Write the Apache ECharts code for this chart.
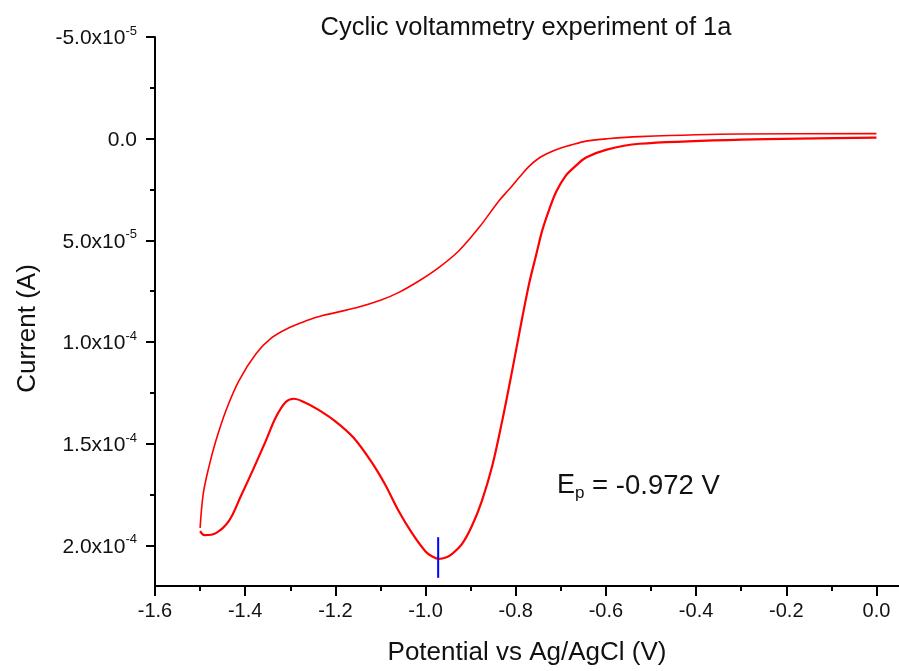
<!DOCTYPE html>
<html>
<head>
<meta charset="utf-8">
<script src="https://cdn.jsdelivr.net/npm/echarts@6/dist/echarts.min.js"></script>
<style>
  html, body { margin: 0; padding: 0; background: #fff; }
  #cv { width: 899px; height: 671px; }
</style>
</head>
<body>
<div id="cv"></div>
<script>
// forward (cathodic) scan, 0.0 V -> -1.5 V ; current in A
var fwdPotential = [0.00, -0.30, -0.526, -0.60, -0.644, -0.67, -0.69, -0.71, -0.726, -0.741, -0.755, -0.77, -0.786,
  -0.808, -0.830, -0.852, -0.875, -0.897, -0.919, -0.941, -0.955, -0.970, -0.985, -1.00, -1.03, -1.06, -1.09, -1.12, -1.16, -1.20, -1.24,
  -1.27, -1.292, -1.31, -1.332, -1.355, -1.385, -1.41, -1.436, -1.465, -1.49, -1.50];
var fwdCurrent = [-0.05e-5, 0.05e-5, 0.25e-5, 0.55e-5, 0.93e-5, 1.40e-5, 1.85e-5, 2.60e-5, 3.50e-5, 4.50e-5, 5.75e-5, 7.10e-5, 8.86e-5,
  11.42e-5, 13.88e-5, 16.09e-5, 17.81e-5, 19.04e-5, 19.93e-5, 20.42e-5, 20.60e-5, 20.67e-5, 20.55e-5, 20.30e-5, 19.40e-5, 18.30e-5, 17.00e-5, 15.90e-5, 14.70e-5, 13.90e-5, 13.30e-5,
  12.95e-5, 12.79e-5, 12.95e-5, 13.70e-5, 14.90e-5, 16.40e-5, 17.60e-5, 18.80e-5, 19.40e-5, 19.50e-5, 19.30e-5];

// reverse (anodic) scan, -1.5 V -> 0.0 V
var revPotential = [-1.50, -1.493, -1.481, -1.465, -1.443, -1.414, -1.376, -1.341, -1.303, -1.265, -1.230, -1.154, -1.10,
  -1.059, -1.014, -0.970, -0.926, -0.881, -0.837, -0.815, -0.792, -0.77, -0.748, -0.725, -0.70, -0.68, -0.644, -0.599, -0.526, -0.304, 0.00];
var revCurrent = [19.14e-5, 17.47e-5, 16.19e-5, 14.86e-5, 13.39e-5, 11.91e-5, 10.58e-5, 9.79e-5, 9.30e-5, 8.96e-5, 8.71e-5, 8.32e-5, 7.95e-5,
  7.56e-5, 6.99e-5, 6.33e-5, 5.51e-5, 4.36e-5, 3.05e-5, 2.50e-5, 1.90e-5, 1.35e-5, 0.95e-5, 0.68e-5, 0.46e-5, 0.33e-5, 0.12e-5, 0.01e-5, -0.10e-5, -0.23e-5, -0.25e-5];

// peak marker at Ep
var peakPotential = [-0.972, -0.972];
var peakCurrent = [19.6e-5, 21.6e-5];

var titleText = 'Cyclic voltammetry experiment of 1a';
var xName = 'Potential vs Ag/AgCl (V)';
var yName = 'Current (A)';

function pairs(xs, ys) {
  var out = [];
  for (var i = 0; i < xs.length; i++) out.push([xs[i], ys[i]]);
  return out;
}

function sciLabel(v) {
  if (Math.abs(v) < 1e-12) return '{m|0.0}';
  var e = Math.floor(Math.log10(Math.abs(v)) + 1e-9);
  var m = v / Math.pow(10, e);
  return '{m|' + m.toFixed(1) + 'x10}{s|' + e + '}';
}

var font = '"Liberation Sans", Arial, sans-serif';
var chart = echarts.init(document.getElementById('cv'));

chart.setOption({
  backgroundColor: '#fff',
  animation: false,
  title: {
    text: titleText,
    left: 521,
    top: 10,
    textAlign: 'center',
    textStyle: { fontFamily: font, fontSize: 25.5, fontWeight: 'normal', color: '#111' }
  },
  grid: [
    // plotting area, full axis extent
    { left: 155, right: 0, top: 37, bottom: 85 },
    // tick area: -1.6..0 and -5e-5..2e-4
    { left: 155, right: 22.55, top: 37, bottom: 125.67 }
  ],
  xAxis: [
    {
      gridIndex: 0, type: 'value', min: -1.6, max: 0.05,
      splitLine: { show: false },
      axisLine: { onZero: false, lineStyle: { color: '#000', width: 2 } },
      axisTick: { show: false },
      axisLabel: { show: false },
      name: xName, nameLocation: 'middle', nameGap: 54,
      nameTextStyle: { fontFamily: font, fontSize: 26, color: '#111' }
    },
    {
      gridIndex: 1, type: 'value', min: -1.6, max: 0, interval: 0.2, offset: 40.67,
      splitLine: { show: false },
      axisLine: { show: false, onZero: false },
      axisTick: { length: 10, lineStyle: { color: '#000', width: 2 } },
      minorTick: { show: true, splitNumber: 2, length: 5, lineStyle: { color: '#000', width: 2 } },
      axisLabel: {
        margin: 15, fontFamily: font, fontSize: 20, color: '#111',
        formatter: function (v) { return v.toFixed(1); }
      }
    }
  ],
  yAxis: [
    {
      gridIndex: 0, type: 'value', inverse: true, min: -5e-5, max: 2.2e-4,
      splitLine: { show: false },
      axisLine: { onZero: false, lineStyle: { color: '#000', width: 2 } },
      axisTick: { show: false },
      axisLabel: { show: false },
      name: yName, nameLocation: 'middle', nameGap: 114, nameRotate: 90,
      nameTextStyle: { fontFamily: font, fontSize: 26, color: '#111', padding: [0, 34, 0, 0] }
    },
    {
      gridIndex: 1, type: 'value', inverse: true, min: -5e-5, max: 2e-4, interval: 5e-5,
      splitLine: { show: false },
      axisLine: { show: false, onZero: false },
      axisTick: { length: 9, lineStyle: { color: '#000', width: 2 } },
      minorTick: { show: true, splitNumber: 2, length: 5, lineStyle: { color: '#000', width: 2 } },
      axisLabel: {
        margin: 18, color: '#111',
        formatter: sciLabel,
        rich: {
          m: { fontFamily: font, fontSize: 21, color: '#111', lineHeight: 24, verticalAlign: 'bottom' },
          s: { fontFamily: font, fontSize: 13, color: '#111', lineHeight: 12, verticalAlign: 'top' }
        }
      }
    }
  ],
  graphic: [
    {
      type: 'text', left: 557, top: 463,
      style: {
        text: '{e|E}{p|p}{t| = -0.972 V}',
        rich: {
          e: { fontFamily: font, fontSize: 27, lineHeight: 30, verticalAlign: 'top', fill: '#111' },
          p: { fontFamily: font, fontSize: 17, lineHeight: 17, padding: [22, 0, 0, 0], verticalAlign: 'bottom', fill: '#111' },
          t: { fontFamily: font, fontSize: 27.5, lineHeight: 30, verticalAlign: 'top', fill: '#111' }
        }
      }
    }
  ],
  series: [
    {
      name: 'forward', type: 'line', xAxisIndex: 0, yAxisIndex: 0,
      data: pairs(fwdPotential, fwdCurrent),
      showSymbol: false, smooth: 0.35,
      lineStyle: { color: '#ff0000', width: 2.2 }
    },
    {
      name: 'reverse', type: 'line', xAxisIndex: 0, yAxisIndex: 0,
      data: pairs(revPotential, revCurrent),
      showSymbol: false, smooth: 0.35,
      lineStyle: { color: '#ff0000', width: 1.6 }
    },
    {
      name: 'Ep', type: 'line', xAxisIndex: 0, yAxisIndex: 0,
      data: pairs(peakPotential, peakCurrent),
      showSymbol: false,
      lineStyle: { color: '#0000ff', width: 2 }
    }
  ]
});
</script>
</body>
</html>
